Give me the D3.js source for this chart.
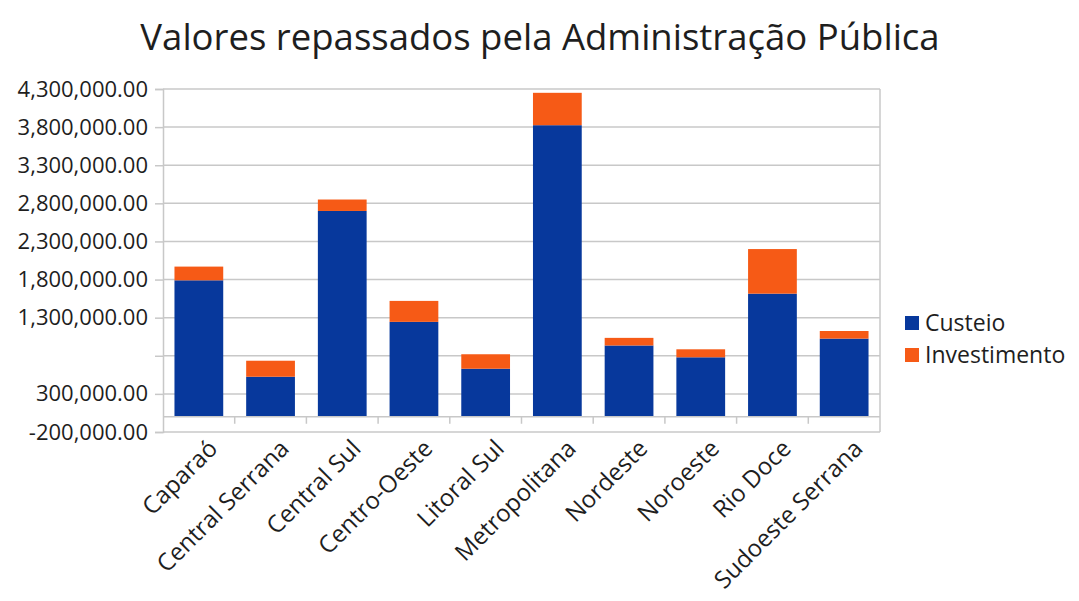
<!DOCTYPE html>
<html>
<head>
<meta charset="utf-8">
<script src="https://cdn.jsdelivr.net/npm/d3@7"></script>
<style>
  body { margin: 0; background: #fff; }
  text { font-family: "Open Sans", sans-serif; fill: #1e1e1e; }
</style>
</head>
<body>
<div id="chart-area"></div>
<script>
// data
var regioes = ["Caparaó", "Central Serrana", "Central Sul", "Centro-Oeste", "Litoral Sul",
  "Metropolitana", "Nordeste", "Noroeste", "Rio Doce", "Sudoeste Serrana"];
var custeio = [1790000, 525000, 2700000, 1245000, 630000, 3825000, 935000, 780000, 1615000, 1025000];
var investimento = [180000, 210000, 150000, 275000, 190000, 425000, 100000, 105000, 585000, 100000];
var series = ["Custeio", "Investimento"];
var yTicks = [-200000, 300000, 800000, 1300000, 1800000, 2300000, 2800000, 3300000, 3800000, 4300000];
var yTickLabels = ["-200,000.00", "300,000.00", "", "1,300,000.00", "1,800,000.00", "2,300,000.00",
  "2,800,000.00", "3,300,000.00", "3,800,000.00", "4,300,000.00"];

var W = 1079, H = 601;
var plotLeft = 163, plotRight = 880, plotTop = 89, plotBottom = 432;
var colors = d3.scaleOrdinal().domain(series).range(["#07389c", "#f65a16"]);

var svg = d3.select("#chart-area").append("svg")
  .attr("width", W)
  .attr("height", H);

var x = d3.scaleBand()
  .domain(regioes)
  .range([plotLeft, plotRight])
  .paddingInner(0.32)
  .paddingOuter(0.16);

var y = d3.scaleLinear()
  .domain([yTicks[0], yTicks[yTicks.length - 1]])
  .range([plotBottom, plotTop]);

var rows = regioes.map((r, i) => ({ regiao: r, Custeio: custeio[i], Investimento: investimento[i] }));
var stacked = d3.stack().keys(series)(rows);

// gridlines
svg.append("g").selectAll("line").data(yTicks).enter()
  .append("line")
  .attr("x1", plotLeft).attr("x2", plotRight)
  .attr("y1", d => y(d)).attr("y2", d => y(d))
  .attr("stroke", "#c8c8c8")
  .attr("stroke-width", 1.5);

// right border
svg.append("line")
  .attr("x1", plotRight).attr("x2", plotRight)
  .attr("y1", plotTop).attr("y2", plotBottom)
  .attr("stroke", "#c8c8c8").attr("stroke-width", 1.5);

// bars
svg.append("g").selectAll("g").data(stacked).enter()
  .append("g")
  .attr("fill", d => colors(d.key))
  .selectAll("rect").data(d => d).enter()
  .append("rect")
  .attr("x", d => x(d.data.regiao))
  .attr("y", d => y(d[1]))
  .attr("height", d => y(d[0]) - y(d[1]))
  .attr("width", x.bandwidth());

// y axis
var leftAxis = d3.axisLeft(y)
  .tickValues(yTicks)
  .tickSize(8)
  .tickPadding(7)
  .tickFormat((d, i) => yTickLabels[i]);
var gy = svg.append("g")
  .attr("transform", "translate(" + plotLeft + ",0)")
  .call(leftAxis);
gy.select(".domain").attr("stroke", "#c8c8c8").attr("stroke-width", 1.5);
gy.selectAll(".tick line").attr("stroke", "#c8c8c8").attr("stroke-width", 1.5);
gy.selectAll(".tick text")
  .attr("font-size", "22px")
  .attr("font-family", "'Open Sans', sans-serif")
  .attr("fill", "#1e1e1e");

// category axis at zero
var step = x.step();
svg.append("line")
  .attr("x1", plotLeft).attr("x2", plotRight)
  .attr("y1", y(0)).attr("y2", y(0))
  .attr("stroke", "#c8c8c8").attr("stroke-width", 1.5);
svg.append("g").selectAll("line").data(regioes.slice(1)).enter()
  .append("line")
  .attr("x1", d => x(d) - step * x.paddingInner() / 2)
  .attr("x2", d => x(d) - step * x.paddingInner() / 2)
  .attr("y1", y(0)).attr("y2", y(0) + 7)
  .attr("stroke", "#c8c8c8").attr("stroke-width", 1.5);

// category labels
svg.append("g").selectAll("text").data(regioes).enter()
  .append("text")
  .attr("text-anchor", "end")
  .attr("font-size", "24px")
  .attr("transform", d => "translate(" + (x(d) + x.bandwidth() / 2 + 20) + "," + (plotBottom + 18) + ") rotate(-45)")
  .text(d => d);

// title
svg.append("text")
  .attr("x", 540)
  .attr("y", 50)
  .attr("text-anchor", "middle")
  .attr("font-size", "36.5px")
  .text("Valores repassados pela Administração Pública");

// legend
var legend = svg.append("g").selectAll("g").data(series).enter()
  .append("g")
  .attr("transform", (d, i) => "translate(905," + (316 + i * 32) + ")");
legend.append("rect")
  .attr("width", 14).attr("height", 14)
  .attr("fill", d => colors(d));
legend.append("text")
  .attr("x", 20).attr("y", 15)
  .attr("font-size", "23px")
  .text(d => d);
</script>
</body>
</html>
